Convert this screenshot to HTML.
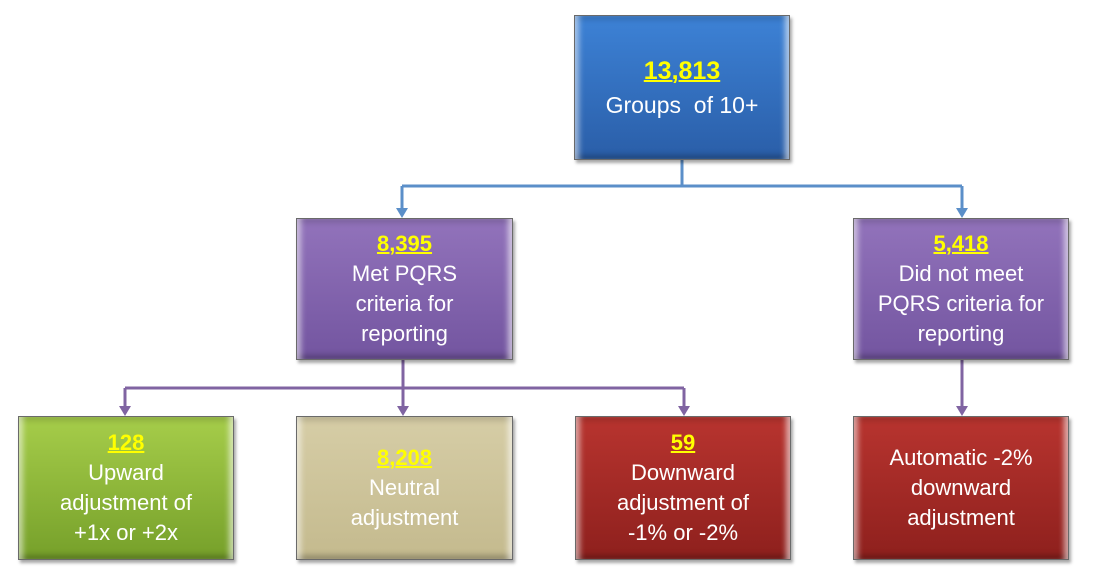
<!DOCTYPE html>
<html><head><style>
body{margin:0;width:1098px;height:584px;background:#fff;position:relative;overflow:hidden;font-family:"Liberation Sans",sans-serif}
.b{position:absolute;box-sizing:border-box;border:1px solid #6a6a6a;display:flex;flex-direction:column;justify-content:center;align-items:center;text-align:center;color:#fff;font-size:22px;line-height:30px;box-shadow:inset 8px 0 6px -4px rgba(255,255,255,.55),inset -8px 0 6px -4px rgba(255,255,255,.6),inset 0 8px 6px -4px rgba(0,0,0,.15),inset 0 -8px 6px -4px rgba(0,0,0,.25),2px 3px 3px rgba(0,0,0,.35)}
.n{color:#ffff00;font-weight:bold;text-decoration:underline;text-decoration-thickness:2px}
</style></head><body>
<svg width="1098" height="584" style="position:absolute;left:0;top:0">
<g stroke="#5b8fc9" stroke-width="3" fill="none">
<path d="M682 160V186M402 186H962M402 186V210M962 186V210"/></g>
<g fill="#5b8fc9"><path d="M396 208h12l-6 10z"/><path d="M956 208h12l-6 10z"/></g>
<g stroke="#8064a2" stroke-width="3" fill="none">
<path d="M403 360V388M125 388H684M125 388V408M403 388V408M684 388V408M962 360V408"/></g>
<g fill="#8064a2"><path d="M119 406h12l-6 10z"/><path d="M397 406h12l-6 10z"/><path d="M678 406h12l-6 10z"/><path d="M956 406h12l-6 10z"/></g>
</svg>
<div class="b" style="left:574px;top:15px;width:216px;height:145px;background:linear-gradient(#3d82d6,#2a5ea8);font-size:23px;line-height:34px"><span class="n" style="font-size:25px">13,813</span><span>Groups&nbsp; of 10+</span></div>
<div class="b" style="left:296px;top:218px;width:217px;height:142px;background:linear-gradient(#9273bb,#7355a0)"><span class="n">8,395</span><span>Met PQRS<br>criteria for<br>reporting</span></div>
<div class="b" style="left:853px;top:218px;width:216px;height:142px;background:linear-gradient(#9273bb,#7355a0)"><span class="n">5,418</span><span>Did not meet<br>PQRS criteria for<br>reporting</span></div>
<div class="b" style="left:18px;top:416px;width:216px;height:144px;background:linear-gradient(#a6cd4a,#76a02a)"><span class="n">128</span><span>Upward<br>adjustment of<br>+1x or +2x</span></div>
<div class="b" style="left:296px;top:416px;width:217px;height:144px;background:linear-gradient(#d6cda6,#c4ba8e)"><span class="n">8,208</span><span>Neutral<br>adjustment</span></div>
<div class="b" style="left:575px;top:416px;width:216px;height:144px;background:linear-gradient(#b8342f,#8e201d)"><span class="n">59</span><span>Downward<br>adjustment of<br>-1% or -2%</span></div>
<div class="b" style="left:853px;top:416px;width:216px;height:144px;background:linear-gradient(#b8342f,#8e201d)"><span>Automatic -2%<br>downward<br>adjustment</span></div>
</body></html>
